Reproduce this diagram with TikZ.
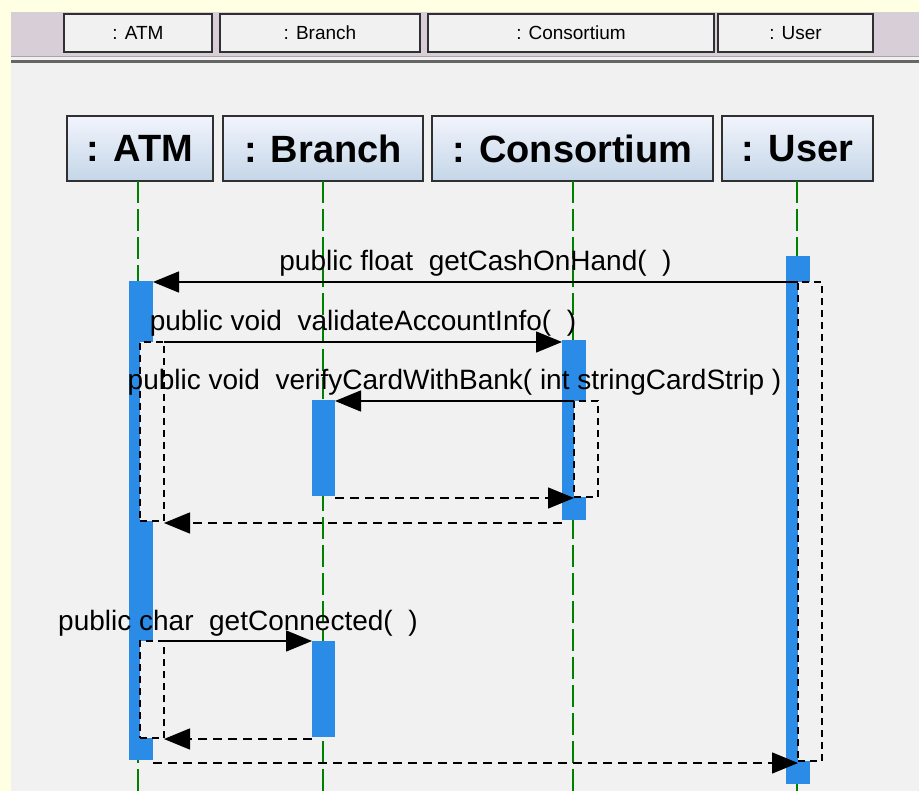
\documentclass[tikz,border=0pt]{standalone}
\usepackage{fontspec}
\setmainfont{Liberation Sans}
\usetikzlibrary{arrows.meta,calc}

\definecolor{paper}{RGB}{255,255,228}
\definecolor{strip}{RGB}{216,206,216}
\definecolor{canvasgray}{RGB}{241,241,241}
\definecolor{actblue}{RGB}{43,140,232}
\definecolor{lifegreen}{RGB}{0,128,0}
\definecolor{headtop}{RGB}{242,244,252}
\definecolor{headbot}{RGB}{196,214,232}
\definecolor{edge}{RGB}{48,48,48}

\tikzset{
  tab/.style={draw=edge, line width=1.8pt, fill=canvasgray, inner sep=0pt, outer sep=0pt,
    anchor=north west, font=\fontsize{19}{21}\selectfont},
  headbox/.style={draw=edge, line width=1.5pt, top color=headtop, bottom color=headbot,
    inner sep=0pt, outer sep=0pt, anchor=north west, minimum height=65pt,
    font=\fontsize{38}{40}\selectfont\bfseries},
  lifeline/.style={draw=lifegreen, line width=1.3pt, dash pattern=on 22pt off 6pt},
  actbar/.style={fill=actblue, draw=none, inner sep=0pt, outer sep=0pt, anchor=north west,
    minimum width=24pt},
  retbox/.style={draw=black, fill=canvasgray, line width=1.5pt, dash pattern=on 7pt off 5pt,
    inner sep=0pt, outer sep=0pt, anchor=north west, minimum width=24pt},
  call/.style={draw=black, line width=1.5pt, -{Triangle[length=26pt,width=21pt]}},
  reply/.style={draw=black, line width=1.5pt, dash pattern=on 9pt off 6pt,
    -{Triangle[length=26pt,width=21pt]}},
  msglabel/.style={anchor=base, yshift=11pt, inner sep=0pt, font=\fontsize{28}{30}\selectfont}
}

\begin{document}
\begin{tikzpicture}[x=1pt, y=-1pt]
  \useasboundingbox (0,0) rectangle (919,791);
  % page and panels
  \fill[paper] (0,0) rectangle (919,791);
  \fill[strip] (11,12) rectangle (919,56);
  \fill[canvasgray] (11,56) rectangle (919,791);
  \draw[gray!70, line width=1pt] (11,56.5) -- (919,56.5);
  \draw[black!60, line width=2.5pt] (11,61.5) -- (919,61.5);

  % tabs across the top
  \node[tab, minimum width=148pt, minimum height=38pt] (tabAtm) at (64,14) {: ATM};
  \node[tab, minimum width=200pt, minimum height=38pt] (tabBranch) at (220,14) {: Branch};
  \node[tab, minimum width=286pt, minimum height=38pt] (tabCons) at (428,14) {: Consortium};
  \node[tab, minimum width=155pt, minimum height=38pt] (tabUser) at (718,14) {: User};

  % object heads
  \node[headbox, minimum width=146pt] (atm) at (67,116) {: ATM};
  \node[headbox, minimum width=200pt] (branch) at (223,116) {: Branch};
  \node[headbox, minimum width=281pt] (cons) at (432,116) {: Consortium};
  \node[headbox, minimum width=151pt] (user) at (722,116) {: User};

  \coordinate (floor) at (0,791);

  % lifelines
  \draw[lifeline] (atm.south -| 138,0) -- (floor -| 138,0);
  \draw[lifeline] (branch.south -| 323,0) -- (floor -| 323,0);
  \draw[lifeline] (cons.south -| 573,0) -- (floor -| 573,0);
  \draw[lifeline] (user.south -| 797,0) -- (floor -| 797,0);

  % activation bars
  \node[actbar, minimum height=479pt] (atmBar) at (129,281) {};
  \node[actbar, minimum height=528pt] (userBar) at (786,256) {};
  \node[actbar, minimum height=180pt] (consBar) at (562,340) {};
  \node[actbar, minimum width=23pt, minimum height=96pt] (brBarA) at (312,400) {};
  \node[actbar, minimum width=23pt, minimum height=96pt] (brBarB) at (312,641) {};

  % dashed return frames
  \node[retbox, minimum height=479pt] (userRet) at (798,282) {};
  \node[retbox, minimum height=179pt] (atmRetA) at (140,342) {};
  \node[retbox, minimum height=96pt] (consRet) at (574,401) {};
  \node[retbox, minimum height=97pt] (atmRetB) at (140,641) {};

  % calls
  \draw[call] (userRet.north west) -- (userRet.north west -| atmBar.east)
    node[msglabel, midway] {public float\ \ getCashOnHand(\ \ )};
  \draw[call] (atmRetA.north east) -- (atmRetA.north east -| consBar.west)
    node[msglabel, midway] {public void\ \ validateAccountInfo(\ \ )};
  \draw[call] (consRet.north west) -- (consRet.north west -| brBarA.east)
    node[msglabel, midway] {public void\ \ verifyCardWithBank( int stringCardStrip )};
  \draw[call] (atmRetB.north east) -- (atmRetB.north east -| brBarB.west)
    node[msglabel, midway] {public char\ \ getConnected(\ \ )};

  % replies
  \draw[reply] ($(brBarA.south east)+(0,2)$) -- ($(brBarA.south east -| consRet.west)+(0,2)$);
  \draw[reply] ($(consBar.south west)+(0,3)$) -- ($(consBar.south west -| atmRetA.east)+(0,3)$);
  \draw[reply] ($(brBarB.south west)+(0,2)$) -- ($(brBarB.south west -| atmRetB.east)+(0,2)$);
  \draw[reply] ($(atmBar.south east)+(0,3)$) -- ($(atmBar.south east -| userRet.west)+(0,3)$);
\end{tikzpicture}
\end{document}
